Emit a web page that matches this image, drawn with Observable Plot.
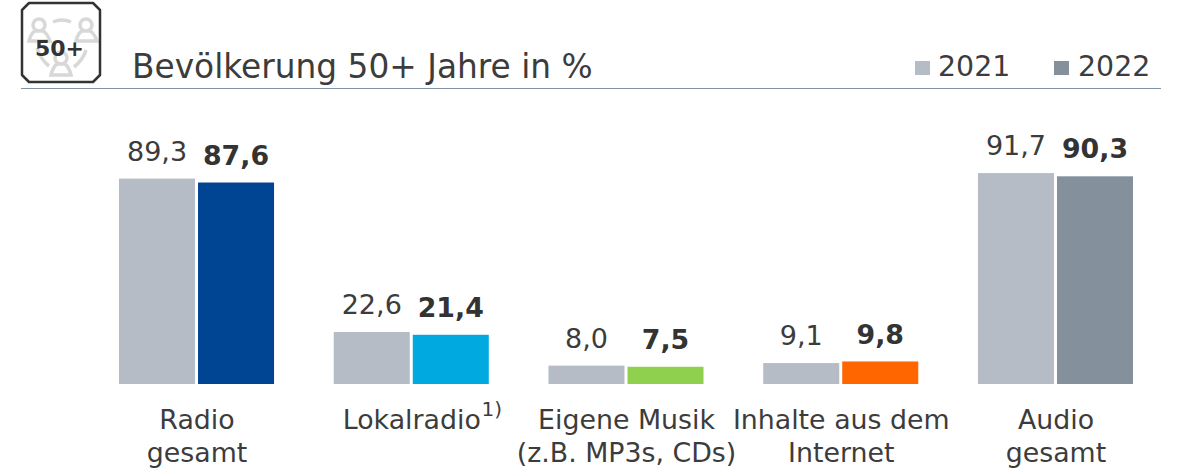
<!DOCTYPE html>
<html>
<head>
<meta charset="utf-8">
<script src="https://cdn.jsdelivr.net/npm/d3@7"></script>
<script src="https://cdn.jsdelivr.net/npm/@observablehq/plot@0.6"></script>
<style>
html,body{margin:0;padding:0;background:#fff;overflow:hidden}
#chart{width:1182px;font-family:"DejaVu Sans",sans-serif;color:#3c3c3c}
#head{position:relative;height:89px;width:1182px}
#rule{position:absolute;left:21px;top:88px;width:1140px;height:1px;background:#7f93a5}
#title{position:absolute;left:132px;top:48px;font-size:32.8px;line-height:38px;white-space:nowrap}
.lg{position:absolute;top:48px;font-size:28.4px;line-height:38px}
.sw{position:absolute;top:61px;width:15px;height:14px}
#icon{position:absolute;left:20px;top:0}
#plot svg{display:block}
</style>
</head>
<body>
<div id="chart">
  <div id="head">
    <svg id="icon" width="84" height="86" viewBox="0 0 84 86">
      <g fill="none" stroke="#d8d8d8" stroke-width="3.5">
        <path d="M33 22 Q42 18 51 22"/>
        <path d="M17 48 Q21 60 29 66"/>
        <path d="M66 50 Q63 60 54 67"/>
      </g>
      <g fill="#fff" stroke="#d8d8d8" stroke-width="3.5">
        <circle cx="19" cy="25" r="6"/><path d="M9 41 Q11 33 15 31 L23 31 Q27 33 30 41 Z"/>
        <circle cx="66" cy="25" r="6"/><path d="M56 41 Q58 33 62 31 L70 31 Q74 33 77 41 Z"/>
        <circle cx="41" cy="58" r="6"/><path d="M31 75 Q33 67 37 64 L45 64 Q49 67 51 75 Z"/>
      </g>
      <path d="M9 3 H73 L80 10 V75 L73 82 H9 L2 75 V10 Z" fill="none" stroke="#333" stroke-width="2.5" stroke-linejoin="round"/>
      <text x="39.5" y="56" text-anchor="middle" font-family="DejaVu Sans" font-weight="700" font-size="22" fill="#333">50+</text>
    </svg>
    <div id="title">Bevölkerung 50+ Jahre in %</div>
    <div class="sw" style="left:915px;background:#b5bcc5"></div>
    <div class="lg" style="left:938px">2021</div>
    <div class="sw" style="left:1054px;background:#84909c"></div>
    <div class="lg" style="left:1078px">2022</div>
    <div id="rule"></div>
  </div>
  <div id="plot"></div>
</div>
<script>
const categories = ["Radio gesamt", "Lokalradio", "Eigene Musik", "Inhalte aus dem Internet", "Audio gesamt"];
const axisLabels = ["Radio\ngesamt", "Lokalradio", "Eigene Musik\n(z.B. MP3s, CDs)", "Inhalte aus dem\nInternet", "Audio\ngesamt"];
const years = ["2021", "2022"];
const values2021 = [89.3, 22.6, 8.0, 9.1, 91.7];
const values2022 = [87.6, 21.4, 7.5, 9.8, 90.3];
const colors2021 = "#b5bcc5";
const colors2022 = ["#004494", "#00a9e0", "#8fd14f", "#ff6600", "#84909c"];

const rows = categories.flatMap((c, i) => [
  {category: c, year: years[0], value: values2021[i], color: colors2021},
  {category: c, year: years[1], value: values2022[i], color: colors2022[i]}
]);
const fmt = d => d.value.toFixed(1).replace(".", ",");
const label = new Map(categories.map((c, i) => [c, axisLabels[i]]));
const ink = "#3c3c3c";

const chart = Plot.plot({
  width: 1182,
  height: 380,
  marginTop: 65,
  marginBottom: 85,
  marginLeft: 119,
  marginRight: 49,
  style: {fontFamily: "'DejaVu Sans', sans-serif", color: ink, background: "#fff", overflow: "visible"},
  fx: {domain: categories, paddingInner: 0.278, paddingOuter: 0, round: false, label: null},
  x: {domain: years, paddingInner: 0.038, paddingOuter: 0, round: false, axis: null},
  y: {domain: [0, 100], axis: null},
  marks: [
    Plot.barY(rows, {fx: "category", x: "year", y: "value", fill: "color"}),
    Plot.text(rows.filter(d => d.year === years[0]), {
      fx: "category", x: "year", y: "value", text: fmt, dy: -27, dx: -0.5, fontSize: 27, fill: ink
    }),
    Plot.text(rows.filter(d => d.year === years[1]), {
      fx: "category", x: "year", y: "value", text: fmt, dy: -27, dx: -0.5, fontSize: 26.8, fontWeight: 700, fill: "#333"
    }),
    Plot.axisFx({
      anchor: "bottom",
      tickSize: 0,
      tickPadding: 21,
      fontSize: 26.8,
      lineHeight: 1.23,
      lineAnchor: "top",
      label: null,
      tickFormat: c => label.get(c),
      fill: ink
    }),
    Plot.text(["1)"], {
      fx: () => categories[1],
      frameAnchor: "bottom",
      text: d => d,
      dx: 80,
      dy: 31,
      fontSize: 20,
      fill: ink
    })
  ]
});
document.getElementById("plot").appendChild(chart);
</script>
</body>
</html>
